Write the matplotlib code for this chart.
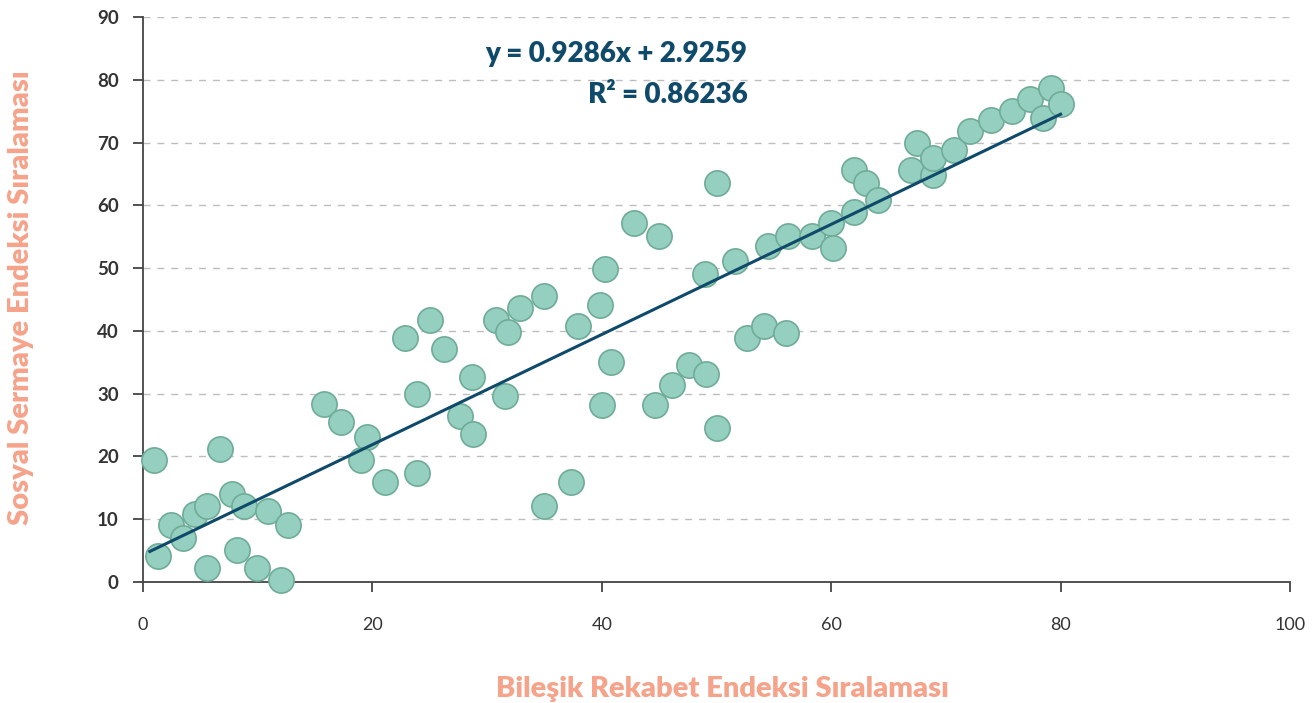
import numpy as np
import matplotlib
matplotlib.use("Agg")
import matplotlib.pyplot as plt

# Bileşik Rekabet Endeksi sıralaması (x) ve Sosyal Sermaye Endeksi sıralaması (y)
rekabet = [1.0, 1.3, 2.4, 3.5, 4.5, 5.6, 5.6, 6.7, 7.8, 8.2, 8.8, 9.9, 10.9, 12.0, 12.6,
           15.8, 17.3, 19.5, 19.0, 21.1, 22.8, 23.9, 23.9, 25.0, 26.2, 27.6, 28.8, 28.7,
           30.8, 31.8, 31.6, 32.9, 35.0, 35.0, 37.3, 37.9, 39.8, 40.3, 40.0, 40.8, 42.8,
           45.0, 44.6, 46.1, 47.6, 49.1, 49.0, 50.0, 50.0, 51.6, 52.7, 54.1, 54.5, 56.1,
           56.2, 58.3, 60.0, 60.2, 62.0, 62.0, 63.0, 64.1, 67.0, 67.5, 68.9, 68.9, 70.7,
           72.1, 73.9, 75.8, 77.3, 78.5, 79.2, 80.0]
sosyal = [19.4, 4.1, 9.1, 7.0, 10.8, 12.1, 2.2, 21.2, 14.0, 5.1, 12.1, 2.2, 11.3, 0.3, 9.1,
          28.3, 25.5, 23.1, 19.4, 15.9, 38.9, 29.9, 17.4, 41.7, 37.1, 26.4, 23.6, 32.6,
          41.7, 39.8, 29.6, 43.6, 45.5, 12.1, 15.9, 40.8, 44.1, 49.8, 28.2, 35.0, 57.2,
          55.1, 28.2, 31.4, 34.6, 33.1, 49.0, 63.5, 24.5, 51.1, 38.9, 40.8, 53.5, 39.6,
          55.1, 55.1, 57.2, 53.2, 58.9, 65.6, 63.5, 60.8, 65.6, 69.9, 64.8, 67.5, 68.8,
          71.8, 73.6, 75.0, 76.9, 73.9, 78.7, 76.1]

x_ticks = [0, 20, 40, 60, 80, 100]
y_ticks = [0, 10, 20, 30, 40, 50, 60, 70, 80, 90]
equation = "y = 0.9286x + 2.9259"
r2_text = "R² = 0.86236"
x_title = "Bileşik Rekabet Endeksi Sıralaması"
y_title = "Sosyal Sermaye Endeksi Sıralaması"

salmon = "#F5A38A"
navy = "#0F4A6B"

plt.rcParams['font.family'] = ['Lato', 'DejaVu Sans']

fig = plt.figure(figsize=(13.16, 7.03), dpi=100)
ax = fig.add_axes([143 / 1316, 1 - 582 / 703, (1290 - 143) / 1316, (582 - 17) / 703])

ax.scatter(rekabet, sosyal, s=330, color="#95CFBF", edgecolor="#6FAC97",
           linewidth=1.2, zorder=3, clip_on=False)

# trend line
k, b = np.polyfit(rekabet, sosyal, 1)
xs = np.array([min(rekabet) - 0.4, max(rekabet)])
ax.plot(xs, k * xs + b, color=navy, linewidth=2.2, zorder=4)

ax.set_xlim(0, 100)
ax.set_ylim(0, 90)
ax.set_xticks(x_ticks)
ax.set_yticks(y_ticks)
ax.yaxis.grid(True, linestyle=(0, (5, 5)), color="#BDBDBD", linewidth=1)
ax.set_axisbelow(True)
for s in ["top", "right"]:
    ax.spines[s].set_visible(False)
for s in ["left", "bottom"]:
    ax.spines[s].set_color("#444444")
    ax.spines[s].set_linewidth(1.3)
ax.tick_params(axis="both", direction="out", length=7.5, width=1.3, color="#444444")
ax.tick_params(axis="x", labelsize=13, labelcolor="#333333", pad=18)
ax.tick_params(axis="y", labelsize=13.5, labelcolor="#333333", pad=10)
for lbl in ax.get_yticklabels():
    lbl.set_fontweight("bold")

ax.text(0.527, 0.935, equation, transform=ax.transAxes, ha="right", va="center",
        fontsize=20, fontweight="heavy", color=navy)
ax.text(0.527, 0.862, r2_text, transform=ax.transAxes, ha="right", va="center",
        fontsize=20, fontweight="heavy", color=navy)

fig.text(722 / 1316, 1 - 689 / 703, x_title, ha="center", va="center",
         fontsize=21, fontweight="heavy", color=salmon)
fig.text(21 / 1316, 1 - 298 / 703, y_title, ha="center", va="center", rotation=90,
         fontsize=21, fontweight="heavy", color=salmon)

fig.savefig("out.png", dpi=100)
